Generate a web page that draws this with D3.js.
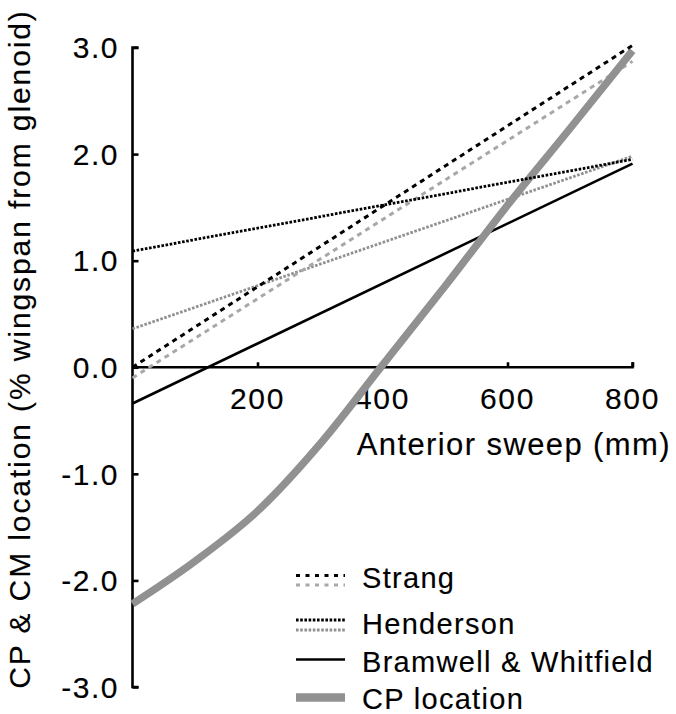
<!DOCTYPE html>
<html>
<head>
<meta charset="utf-8">
<script src="https://cdn.jsdelivr.net/npm/d3@7"></script>
<style>
  html, body { margin: 0; padding: 0; background: #fff; }
  text { font-family: "Liberation Sans", Arial, Helvetica, sans-serif; fill: #000; stroke: #000; stroke-width: 0.15px; }
</style>
</head>
<body>
<svg id="chart" width="676" height="714"></svg>
<script>
// Anterior sweep (mm)
const sweep = [0, 800];
// Centre of mass estimates (% wingspan from glenoid), two configurations each
const strangA = [0.0, 3.02];
const strangB = [-0.10, 2.87];
const hendersonA = [1.09, 1.95];
const hendersonB = [0.36, 1.98];
const bramwell = [-0.34, 1.91];
// Centre of pressure
const cpSweep = [0, 100, 200, 300, 400, 500, 600, 700, 800];
const cpLocation = [-2.22, -1.82, -1.35, -0.72, 0.02, 0.76, 1.52, 2.24, 2.97];

const xTicks = [200, 400, 600, 800];
const yTicks = [3, 2, 1, 0, -1, -2, -3];
const yTickLabels = ["3.0", "2.0", "1.0", "0.0", "-1.0", "-2.0", "-3.0"];

const legendItems = ["Strang", "Henderson", "Bramwell & Whitfield", "CP location"];

const svg = d3.select("#chart");
const x = d3.scaleLinear().domain([0, 800]).range([132.5, 632.5]);
const y = d3.scaleLinear().domain([-3, 3]).range([687, 47.5]);

const line = d3.line().x(d => x(d[0])).y(d => y(d[1]));
const pairs = (xs, ys) => xs.map((v, i) => [v, ys[i]]);

// axes
const yAxis = d3.axisRight(y).tickValues(yTicks).tickSize(6).tickFormat("");
const gy = svg.append("g").attr("transform", `translate(${x(0)},0)`).call(yAxis);
gy.select(".domain").attr("d", `M6,${y(3)}H0V${y(-3)}H6`);
gy.selectAll("line, path").attr("stroke", "#000").attr("stroke-width", 2.6);

const xAxis = d3.axisTop(x).tickValues(xTicks).tickSize(5).tickFormat("");
const gx = svg.append("g").attr("transform", `translate(0,${y(0)})`).call(xAxis);
gx.select(".domain").attr("d", `M${x(0)},0H${x(800)}V-5`);
gx.selectAll("line, path").attr("stroke", "#000").attr("stroke-width", 2.6);

// tick labels
svg.append("g").selectAll("text").data(yTicks).join("text")
  .attr("x", 119).attr("y", d => y(d)).attr("dy", "0.36em")
  .attr("text-anchor", "end").attr("font-size", 30).attr("letter-spacing", 1.5)
  .text((d, i) => yTickLabels[i]);

svg.append("g").selectAll("text").data(xTicks).join("text")
  .attr("x", d => x(d)).attr("y", 409)
  .attr("text-anchor", "middle").attr("font-size", 30).attr("letter-spacing", 1.6)
  .text(d => d);

svg.append("text").attr("x", 671).attr("y", 455)
  .attr("text-anchor", "end").attr("font-size", 31).attr("letter-spacing", 1.4)
  .text("Anterior sweep (mm)");

svg.append("text")
  .attr("transform", `translate(30,${349}) rotate(-90)`)
  .attr("text-anchor", "middle").attr("font-size", 30).attr("letter-spacing", 1.9)
  .text("CP & CM location (% wingspan from glenoid)");

// series styles
const styles = {
  strangA:    { stroke: "#000",    width: 3.0, dash: "5,4.5" },
  strangB:    { stroke: "#a8a8a8", width: 3.0, dash: "5,4.5" },
  hendersonA: { stroke: "#000",    width: 2.8, dash: "2.6,1.6" },
  hendersonB: { stroke: "#909090", width: 2.8, dash: "2.6,1.6" },
  bramwell:   { stroke: "#000",    width: 2.6, dash: null },
  cp:         { stroke: "#919191", width: 7.5, dash: null }
};

const series = [
  ["bramwell", pairs(sweep, bramwell)],
  ["hendersonB", pairs(sweep, hendersonB)],
  ["strangB", pairs(sweep, strangB)],
  ["cp", pairs(cpSweep, cpLocation)],
  ["hendersonA", pairs(sweep, hendersonA)],
  ["strangA", pairs(sweep, strangA)]
];

const curveLine = d3.line().x(d => x(d[0])).y(d => y(d[1])).curve(d3.curveMonotoneX);

series.forEach(([key, pts]) => {
  const s = styles[key];
  svg.append("path")
    .attr("d", key === "cp" ? curveLine(pts) : line(pts))
    .attr("fill", "none")
    .attr("stroke", s.stroke)
    .attr("stroke-width", s.width)
    .attr("stroke-dasharray", s.dash);
});

// legend
const lg = svg.append("g");
const lx0 = 296, lx1 = 345, tx = 362;
const legendRows = [
  { label: legendItems[0], base: 588, lines: [["strangA", 575.5], ["strangB", 585]] },
  { label: legendItems[1], base: 634, lines: [["hendersonA", 620], ["hendersonB", 630]] },
  { label: legendItems[2], base: 672, lines: [["bramwell", 659.5]] },
  { label: legendItems[3], base: 709, lines: [["cp", 697.5]] }
];
legendRows.forEach(r => {
  r.lines.forEach(([key, ly]) => {
    const s = styles[key];
    lg.append("line")
      .attr("x1", lx0).attr("x2", lx1).attr("y1", ly).attr("y2", ly)
      .attr("stroke", s.stroke)
      .attr("stroke-width", key === "cp" ? 8.5 : s.width)
      .attr("stroke-dasharray", key.startsWith("strang") ? "4,5.5" : s.dash);
  });
  lg.append("text").attr("x", tx).attr("y", r.base)
    .attr("font-size", 29).attr("letter-spacing", 1.3).text(r.label);
});
</script>
</body>
</html>
